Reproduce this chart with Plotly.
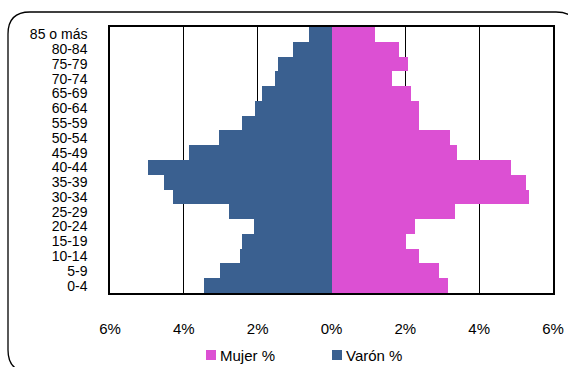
import plotly.graph_objects as go

# Age groups, youngest first (drawn bottom to top)
age_groups = ["0-4", "5-9", "10-14", "15-19", "20-24", "25-29", "30-34", "35-39",
              "40-44", "45-49", "50-54", "55-59", "60-64", "65-69", "70-74",
              "75-79", "80-84", "85 o más"]

# Share of population (%) per age group
mujer_pct = [3.15, 2.90, 2.36, 2.02, 2.27, 3.35, 5.36, 5.26, 4.86, 3.40, 3.20,
             2.36, 2.36, 2.16, 1.63, 2.07, 1.84, 1.18]
varon_pct = [3.46, 3.02, 2.48, 2.43, 2.09, 2.77, 4.30, 4.54, 4.98, 3.86, 3.06,
             2.43, 2.07, 1.89, 1.54, 1.45, 1.05, 0.62]

tick_vals = [-6, -4, -2, 0, 2, 4, 6]
tick_text = ["6%", "4%", "2%", "0%", "2%", "4%", "6%"]

series_names = ["Mujer %", "Varón %"]
series_colors = ["#DC50D3", "#3A6090"]

FONT = "Liberation Sans, Arial, sans-serif"
FS = 15
W, H = 568, 367
L, R, T, B = 110, 15, 27, 74
PW, PH = W - L - R, H - T - B


def px_x(p):
    return (p - L) / PW


def px_y(p):
    return (H - B - p) / PH


fig = go.Figure()
fig.add_trace(go.Bar(
    y=age_groups, x=mujer_pct, orientation="h", name=series_names[0],
    marker=dict(color=series_colors[0], line=dict(width=0)),
))
fig.add_trace(go.Bar(
    y=age_groups, x=[-v for v in varon_pct], orientation="h", name=series_names[1],
    marker=dict(color=series_colors[1], line=dict(width=0)),
))

# Rounded outer frame
x0, x1 = px_x(8), px_x(578)
y0, y1 = px_y(12), px_y(372)
rx, ry = 22 / PW, 22 / PH
frame = (f"M {x0},{y0 - ry} Q {x0},{y0} {x0 + rx},{y0} "
         f"L {x1 - rx},{y0} Q {x1},{y0} {x1},{y0 - ry} "
         f"L {x1},{y1 + ry} Q {x1},{y1} {x1 - rx},{y1} "
         f"L {x0 + rx},{y1} Q {x0},{y1} {x0},{y1 + ry} Z")
shapes = [dict(type="path", path=frame, xref="paper", yref="paper",
               line=dict(color="black", width=1.3), layer="below")]

# Legend: coloured key squares followed by the series names
annotations = []
for name, color, left in zip(series_names, series_colors, [206, 332]):
    shapes.append(dict(type="rect", xref="paper", yref="paper",
                       x0=px_x(left), x1=px_x(left + 10),
                       y0=px_y(350), y1=px_y(360),
                       fillcolor=color, line=dict(width=0)))
    annotations.append(dict(text=name, xref="paper", yref="paper",
                            x=px_x(left + 12), y=px_y(355), xanchor="left", yanchor="middle",
                            showarrow=False, font=dict(family=FONT, size=FS, color="black")))

fig.update_layout(
    width=W, height=H,
    margin=dict(l=L, r=R, t=T, b=B, autoexpand=False),
    paper_bgcolor="white", plot_bgcolor="white",
    barmode="relative", bargap=0,
    font=dict(family=FONT, size=FS, color="black"),
    showlegend=False,
    shapes=shapes,
    annotations=annotations,
)
fig.update_xaxes(
    range=[-6, 6], tickmode="array", tickvals=tick_vals, ticktext=tick_text,
    showgrid=True, gridcolor="black", gridwidth=1.3, zeroline=False,
    showline=True, linecolor="black", linewidth=1.5, mirror=True,
    ticks="", ticklabelstandoff=21, tickfont=dict(size=FS),
)
fig.update_yaxes(
    categoryorder="array", categoryarray=age_groups,
    tickmode="array", tickvals=age_groups, ticktext=age_groups,
    showgrid=False, zeroline=False,
    showline=True, linecolor="black", linewidth=1.5, mirror=True,
    ticks="", ticklabelstandoff=18, tickfont=dict(size=14),
)

fig.write_html("out.html")
